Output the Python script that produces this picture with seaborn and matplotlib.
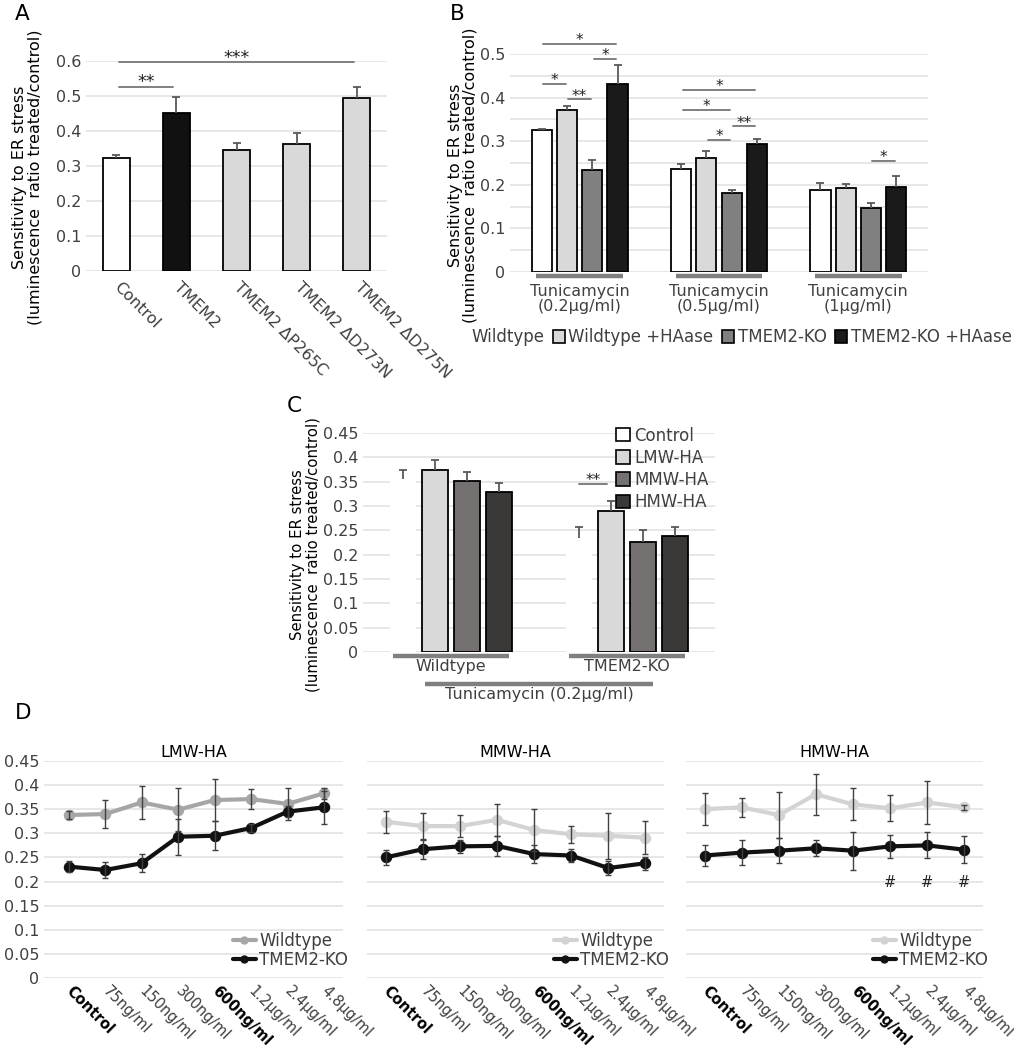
import numpy as np
import pandas as pd
import matplotlib
matplotlib.use("Agg")
import matplotlib.pyplot as plt
from matplotlib.patches import Patch
from matplotlib.lines import Line2D
import seaborn as sns

# ---------------- data ----------------
# A
a_groups = ["Control", "TMEM2", "TMEM2 \u0394P265C", "TMEM2 \u0394D273N", "TMEM2 \u0394D275N"]
a_mean = [0.323, 0.452, 0.346, 0.364, 0.495]
a_err = [0.009, 0.045, 0.019, 0.029, 0.031]
a_colors = ["white", "#111111", "#d9d9d9", "#d9d9d9", "#d9d9d9"]
a_sig = [(0, 1, 0.525, "**"), (0, 4, 0.596, "***")]

# B
b_doses = ["Tunicamycin\n(0.2\u00b5g/ml)", "Tunicamycin\n(0.5\u00b5g/ml)", "Tunicamycin\n(1\u00b5g/ml)"]
b_conds = ["Wildtype", "Wildtype +HAase", "TMEM2-KO", "TMEM2-KO +HAase"]
b_wt = [0.325, 0.237, 0.187]
b_wt_ha = [0.371, 0.262, 0.193]
b_ko = [0.234, 0.182, 0.147]
b_ko_ha = [0.431, 0.293, 0.196]
b_wt_err = [0.003, 0.011, 0.017]
b_wt_ha_err = [0.010, 0.015, 0.009]
b_ko_err = [0.023, 0.005, 0.011]
b_ko_ha_err = [0.043, 0.011, 0.025]
b_colors = ["white", "#d9d9d9", "#808080", "#1a1a1a"]
# (dose, cond i, cond j, height, label)
b_sig = [(0, 0, 3, 0.523, "*"), (0, 2, 3, 0.489, "*"), (0, 0, 1, 0.431, "*"), (0, 1, 2, 0.396, "**"),
         (1, 0, 3, 0.418, "*"), (1, 0, 2, 0.372, "*"), (1, 2, 3, 0.334, "**"), (1, 1, 2, 0.303, "*"),
         (2, 2, 3, 0.254, "*")]

# C
c_groups = ["Wildtype", "TMEM2-KO"]
c_treats = ["Control", "LMW-HA", "MMW-HA", "HMW-HA"]
c_control = [0.356, 0.234]
c_lmw = [0.373, 0.290]
c_mmw = [0.352, 0.226]
c_hmw = [0.329, 0.238]
c_control_err = [0.017, 0.022]
c_lmw_err = [0.021, 0.021]
c_mmw_err = [0.017, 0.025]
c_hmw_err = [0.019, 0.018]
c_colors = ["white", "#d9d9d9", "#767171", "#3b3838"]
c_sig = [(1, 0, 1, 0.345, "**")]

# D
d_doses = ["Control", "75ng/ml", "150ng/ml", "300ng/ml", "600ng/ml", "1.2\u00b5g/ml", "2.4\u00b5g/ml", "4.8\u00b5g/ml"]
d_geno = ["Wildtype", "TMEM2-KO"]
lmw_wt = [0.338, 0.340, 0.364, 0.349, 0.369, 0.371, 0.361, 0.383]
lmw_wt_err = [0.009, 0.029, 0.035, 0.045, 0.044, 0.021, 0.034, 0.012]
lmw_ko = [0.231, 0.224, 0.238, 0.293, 0.295, 0.311, 0.345, 0.354]
lmw_ko_err = [0.012, 0.017, 0.019, 0.037, 0.030, 0.008, 0.012, 0.034]
mmw_wt = [0.324, 0.315, 0.315, 0.328, 0.307, 0.298, 0.295, 0.291]
mmw_wt_err = [0.023, 0.027, 0.022, 0.033, 0.043, 0.018, 0.048, 0.034]
mmw_ko = [0.250, 0.267, 0.273, 0.274, 0.257, 0.254, 0.228, 0.238]
mmw_ko_err = [0.016, 0.020, 0.013, 0.021, 0.018, 0.013, 0.014, 0.013]
hmw_wt = [0.350, 0.354, 0.338, 0.381, 0.360, 0.352, 0.364, 0.354]
hmw_wt_err = [0.033, 0.020, 0.048, 0.043, 0.033, 0.027, 0.045, 0.005]
hmw_ko = [0.254, 0.260, 0.264, 0.269, 0.264, 0.273, 0.275, 0.266]
hmw_ko_err = [0.022, 0.026, 0.026, 0.017, 0.039, 0.024, 0.027, 0.028]
hmw_hash = [5, 6, 7]

# ---------------- style ----------------
sns.set_theme(style="white")
plt.rcParams["font.family"] = ["DejaVu Sans"]
FS = 11.5
TICK = "#404040"
GRID = "#e3e3e3"
ERR = "#595959"
SIG = "#808080"
YLAB = "Sensitivity to ER stress\n(luminescence  ratio treated/control)"

W, H = 1014, 1050
fig = plt.figure(figsize=(W / 100, H / 100), dpi=100)


def px_axes(x0, x1, ytop, ybot):
    return fig.add_axes([x0 / W, 1 - ybot / H, (x1 - x0) / W, (ybot - ytop) / H])


def style_axes(ax, ymax, step, minor=None):
    ax.set_ylim(0, ymax)
    ticks = np.arange(0, ymax + 1e-9, step)
    ax.set_yticks(ticks)
    ax.set_yticklabels([f"{t:g}" for t in ticks])
    if minor:
        ax.set_yticks(np.arange(0, ymax + 1e-9, minor), minor=True)
        ax.grid(axis="y", which="minor", color=GRID, lw=1.2)
    ax.grid(axis="y", which="major", color=GRID, lw=1.2)
    ax.set_axisbelow(True)
    for s in ax.spines.values():
        s.set_visible(False)
    ax.tick_params(axis="both", which="both", length=0, labelsize=FS, labelcolor=TICK)
    ax.set_xlabel("")
    ax.set_ylabel("")


def set_ylab(ax, x, y, fs=FS):
    ax.set_ylabel(YLAB, fontsize=fs, color="black", linespacing=1.0)
    ax.yaxis.set_label_coords(x, y)


def bar_errors(ax, bars, means, errs):
    xs = [p.get_x() + p.get_width() / 2 for p in bars]
    _, caps, _ = ax.errorbar(xs, means, yerr=[np.zeros(len(errs)), errs], fmt="none",
                             ecolor=ERR, elinewidth=1.3, capsize=3, capthick=1.3, zorder=3)
    caps[0].set_visible(False)
    return xs


def sig_line(ax, x0, x1, y, text, fs=11):
    ax.plot([x0, x1], [y, y], color=SIG, lw=1.4, clip_on=False, zorder=4)
    ax.annotate(text, ((x0 + x1) / 2, y), xytext=(0, -3), textcoords="offset points",
                ha="center", va="bottom", fontsize=fs, color="#222222", annotation_clip=False)


# ---------------- A ----------------
ax_a = px_axes(86, 387, 61, 271)
df_a = pd.DataFrame({"construct": a_groups, "value": a_mean})
sns.barplot(data=df_a, x="construct", y="value", hue="construct", palette=a_colors, legend=False,
            width=0.45, edgecolor="black", linewidth=1.3, saturation=1, errorbar=None, ax=ax_a)
style_axes(ax_a, 0.6, 0.1)
ax_a.set_xlim(-0.5, 4.5)
bars_a = sorted(ax_a.patches, key=lambda p: p.get_x())
xs_a = bar_errors(ax_a, bars_a, a_mean, a_err)
for i, j, y, t in a_sig:
    sig_line(ax_a, xs_a[i] + 0.05, xs_a[j] - 0.05, y, t, fs=12.5)
ax_a.set_xticks(range(len(a_groups)))
ax_a.set_xticklabels(a_groups, rotation=-45, ha="left", va="center", rotation_mode="anchor")
ax_a.tick_params(axis="x", pad=10)
set_ylab(ax_a, -0.146, 0.448)

# ---------------- B ----------------
ax_b = px_axes(510, 928, 54, 272)
df_b = pd.DataFrame({"dose": b_doses * 4,
                     "cond": np.repeat(b_conds, 3),
                     "value": b_wt + b_wt_ha + b_ko + b_ko_ha})
sns.barplot(data=df_b, x="dose", y="value", hue="cond", order=b_doses, hue_order=b_conds,
            palette=b_colors, width=0.725, gap=0.2, edgecolor="black", linewidth=1.3,
            saturation=1, errorbar=None, legend=False, ax=ax_b)
style_axes(ax_b, 0.5, 0.1, minor=0.05)
ax_b.set_xlim(-0.5, 2.5)
b_means = [b_wt, b_wt_ha, b_ko, b_ko_ha]
b_errs = [b_wt_err, b_wt_ha_err, b_ko_err, b_ko_ha_err]
b_x = [bar_errors(ax_b, cont, m, e) for cont, m, e in zip(ax_b.containers, b_means, b_errs)]
for g, i, j, y, t in b_sig:
    sig_line(ax_b, b_x[i][g] + 0.01, b_x[j][g] - 0.01, y, t)
for g in range(len(b_doses)):
    ax_b.plot([g - 0.31, g + 0.31], [-0.018, -0.018], color="#7f7f7f", lw=3.2,
              transform=ax_b.get_xaxis_transform(), clip_on=False, solid_capstyle="butt")
for lab in ax_b.get_xticklabels():
    lab.set_linespacing(0.95)
ax_b.tick_params(axis="x", pad=9)
set_ylab(ax_b, -0.077, 0.445)
b_handles = [Patch(facecolor=c, edgecolor=("none" if k == 0 else "black"), lw=1.2)
             for k, c in enumerate(b_colors)]
ax_b.legend(b_handles, b_conds, loc="center", bbox_to_anchor=(0.535, -0.30), ncol=4,
            frameon=False, fontsize=FS + 0.5, labelcolor=TICK, handlelength=0.75,
            handleheight=0.75, handletextpad=0.2, columnspacing=0.5, borderaxespad=0)

# ---------------- C ----------------
ax_c = px_axes(363, 715, 433, 652)
df_c = pd.DataFrame({"group": c_groups * 4,
                     "treat": np.repeat(c_treats, 2),
                     "value": c_control + c_lmw + c_mmw + c_hmw})
sns.barplot(data=df_c, x="group", y="value", hue="treat", order=c_groups, hue_order=c_treats,
            palette=c_colors, width=0.727, gap=0.19, edgecolor="black", linewidth=1.3,
            saturation=1, errorbar=None, legend=False, ax=ax_c)
style_axes(ax_c, 0.45, 0.05)
ax_c.set_xlim(-0.5, 1.5)
for p in ax_c.containers[0]:
    p.set_edgecolor("none")
c_means = [c_control, c_lmw, c_mmw, c_hmw]
c_errs = [c_control_err, c_lmw_err, c_mmw_err, c_hmw_err]
c_x = [bar_errors(ax_c, cont, m, e) for cont, m, e in zip(ax_c.containers, c_means, c_errs)]
for g, i, j, y, t in c_sig:
    sig_line(ax_c, c_x[i][g], c_x[j][g] - 0.02, y, t)
xt_c = ax_c.get_xaxis_transform()
for g in range(len(c_groups)):
    ax_c.plot([g - 0.33, g + 0.33], [-0.016, -0.016], color="#7f7f7f", lw=3.2,
              transform=xt_c, clip_on=False, solid_capstyle="butt")
ax_c.plot([-0.15, 1.15], [-0.146, -0.146], color="#7f7f7f", lw=3.2, transform=xt_c,
          clip_on=False, solid_capstyle="butt")
ax_c.text(0.5, -0.16, "Tunicamycin (0.2\u00b5g/ml)", transform=xt_c, ha="center", va="top",
          fontsize=FS, color=TICK)
ax_c.tick_params(axis="x", pad=5)
set_ylab(ax_c, -0.122, 0.443, fs=10.7)
c_handles = [Patch(facecolor=c, edgecolor="black", lw=1.2) for c in c_colors]
ax_c.legend(c_handles, c_treats, loc="upper right", bbox_to_anchor=(1.0, 1.06), frameon=False,
            fontsize=FS + 0.5, labelcolor=TICK, handlelength=0.85, handleheight=0.85,
            handletextpad=0.25, labelspacing=0.25, borderaxespad=0)

# ---------------- D ----------------
d_panels = [
    ("LMW-HA", (44, 343), (-0.68, 7.52), lmw_wt, lmw_wt_err, lmw_ko, lmw_ko_err, "#a6a6a6"),
    ("MMW-HA", (367, 664), (-0.5, 7.5), mmw_wt, mmw_wt_err, mmw_ko, mmw_ko_err, "#d3d3d3"),
    ("HMW-HA", (686, 983), (-0.5, 7.5), hmw_wt, hmw_wt_err, hmw_ko, hmw_ko_err, "#d3d3d3"),
]
for k, (name, (x0, x1), xlim, wt, wt_e, ko, ko_e, wt_col) in enumerate(d_panels):
    ax = px_axes(x0, x1, 761, 978)
    df_d = pd.DataFrame({"dose": d_doses * 2, "geno": np.repeat(d_geno, len(d_doses)),
                         "value": wt + ko})
    sns.pointplot(data=df_d, x="dose", y="value", hue="geno", order=d_doses, hue_order=d_geno,
                  palette=[wt_col, "#111111"], markers="o", errorbar=None, legend=False,
                  ax=ax, markersize=6, linewidth=3)
    style_axes(ax, 0.45, 0.05)
    ax.set_xlim(*xlim)
    for line, vals, errs in zip(ax.lines[:2], [wt, ko], [wt_e, ko_e]):
        ax.errorbar(line.get_xdata(), vals, yerr=errs, fmt="none", ecolor="#404040",
                    elinewidth=1.0, capsize=2.5, capthick=1.0, zorder=4)
    if k > 0:
        ax.tick_params(axis="y", labelleft=False)
    ax.set_title(name, fontsize=FS, color="black", pad=3)
    ax.set_xticks(range(len(d_doses)))
    ax.set_xticklabels(d_doses, rotation=-45, ha="left", va="center", rotation_mode="anchor",
                       fontsize=10.5)
    ax.tick_params(axis="x", pad=8)
    for lab in ax.get_xticklabels():
        if lab.get_text() in ("Control", "600ng/ml"):
            lab.set_fontweight("bold")
            lab.set_color("black")
    if name == "HMW-HA":
        for i in hmw_hash:
            ax.text(i, 0.198, "#", ha="center", va="center", fontsize=10.5, color="#222222")
    d_handles = [Line2D([0], [0], color=wt_col, lw=3, marker="o", ms=5),
                 Line2D([0], [0], color="#111111", lw=3, marker="o", ms=5)]
    ax.legend(d_handles, d_geno, loc="lower right", bbox_to_anchor=(1.04, 0.01), frameon=False,
              fontsize=FS + 0.5, labelcolor=TICK, handlelength=1.4, handletextpad=0.2,
              labelspacing=0.05, borderaxespad=0)

# panel letters
for letter, (x, y) in {"A": (15, 4), "B": (450, 4), "C": (287, 396), "D": (15, 703)}.items():
    fig.text(x / W, 1 - y / H, letter, fontsize=15.5, ha="left", va="top", color="black")

fig.savefig("out.png", dpi=100)
